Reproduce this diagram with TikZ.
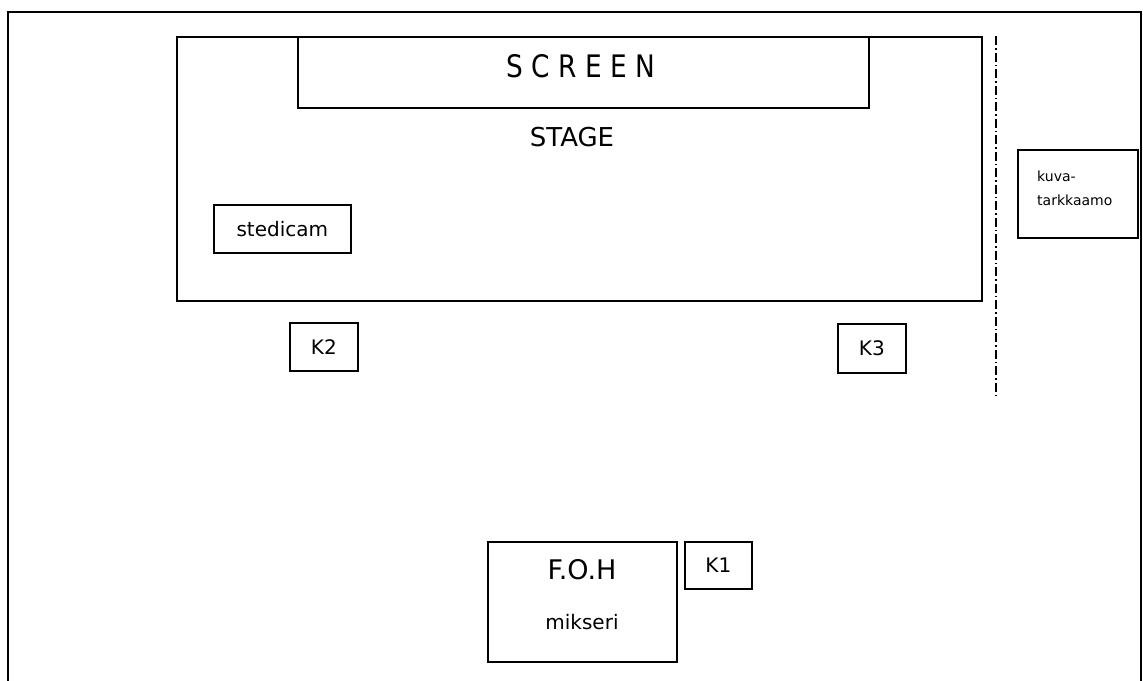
\documentclass[tikz,border=0pt]{standalone}
\usepackage{fontspec}
\setmainfont{DejaVu Sans}
\newfontfamily\narrowfont[FakeStretch=0.85]{DejaVu Sans}
\usetikzlibrary{positioning}

\begin{document}
\begin{tikzpicture}[x=1pt,y=-1pt,
  box/.style={rectangle,draw,line width=1.6pt,inner sep=0pt,anchor=north west},
  big/.style={font=\fontsize{26}{30}\selectfont},
  mid/.style={font=\fontsize{20}{24}\selectfont},
  small/.style={font=\fontsize{14}{24}\selectfont},
  divider/.style={line width=1.6pt,dash pattern=on 9pt off 3pt on 1.5pt off 3pt}
]
\useasboundingbox (0,0) rectangle (1143,680);
\clip (0,0) rectangle (1143,680);
% hall and stage
\node[box,minimum width=1133pt,minimum height=700pt] (hall) at (7,11) {};
\node[box,minimum width=805pt,minimum height=264pt] (stage) at (176,36) {};
\node[box,minimum width=571pt,minimum height=71pt] (screen) at (297,36) {};
\node[font=\narrowfont\fontsize{31}{34}\selectfont] (screenlbl) at (581,66) {S C R E E N};
\node[big] (stagelbl) at (572,137) {STAGE};
\node[box,minimum width=137pt,minimum height=48pt,mid] (stedicam) at (213,204) {stedicam};
% cameras
\node[box,minimum width=68pt,minimum height=48pt,mid] (k2) at (289,322) {K2};
\node[box,minimum width=68pt,minimum height=49pt,mid] (k3) at (837,323) {K3};
\node[box,minimum width=67pt,minimum height=47pt,mid] (k1) at (684,541) {K1};
% control room
\coordinate (dtop) at (996,36);
\coordinate (dbot) at (996,398);
\draw[divider] (dtop) -- (dbot);
\node[box,minimum width=120pt,minimum height=88pt] (kuva) at (1017,149) {};
\node[small,anchor=base west,inner sep=0pt] (kuva1) at (1037,181) {kuva-};
\node[small,anchor=base west,inner sep=0pt] (kuva2) at (1037,205) {tarkkaamo};
% front of house
\node[box,minimum width=189pt,minimum height=120pt] (foh) at (487,541) {};
\node[font=\fontsize{27}{30}\selectfont] (fohlbl) at (582,570) {F.O.H};
\node[mid,anchor=base,inner sep=0pt] (mikseri) at (582,629) {mikseri};
\end{tikzpicture}
\end{document}
